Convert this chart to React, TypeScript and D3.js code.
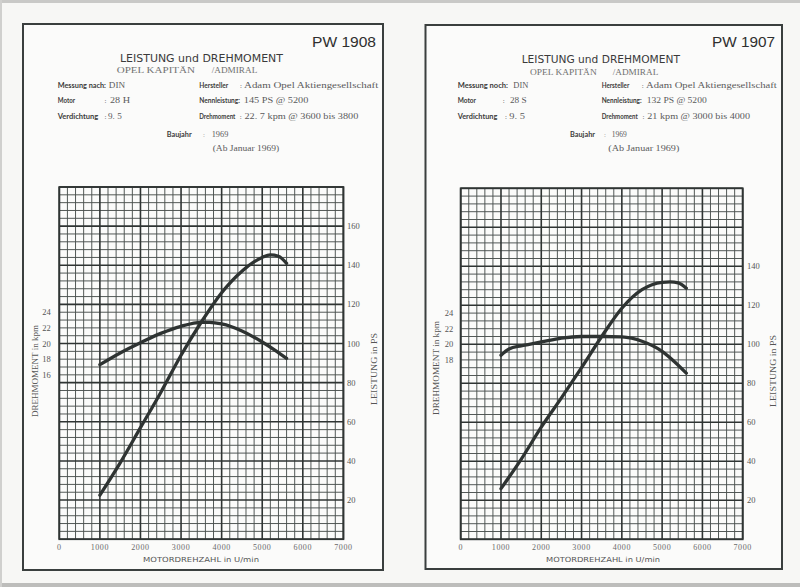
import React from 'react';
import * as d3 from 'd3';

// ---------- data ----------
const rpmTicks = [0, 1000, 2000, 3000, 4000, 5000, 6000, 7000];
const psTicks1908 = [20, 40, 60, 80, 100, 120, 140, 160];
const psTicks1907 = [20, 40, 60, 80, 100, 120, 140];
const kpmTicks1908 = [16, 18, 20, 22, 24];
const kpmTicks1907 = [18, 20, 22, 24];

const torqueRpm1908 = [1000, 1500, 2000, 2500, 3000, 3500, 3700, 4000, 4500, 5000, 5300, 5600];
const torque1908 = [17.3, 18.8, 20.1, 21.3, 22.2, 22.7, 22.7, 22.5, 21.6, 20.2, 19.2, 18.1];
const powerRpm1908 = [1000, 1500, 2000, 2500, 3000, 3500, 4000, 4500, 5000, 5200, 5400, 5600];
const power1908 = [22.5, 39, 57, 75, 94, 111, 126, 137, 144, 145.3, 144.6, 141];

const torqueRpm1907 = [1000, 1200, 1500, 1700, 2000, 2500, 3000, 3500, 4000, 4500, 5000, 5300, 5600];
const torque1907 = [18.6, 19.4, 19.8, 20.0, 20.3, 20.8, 21.0, 21.0, 20.95, 20.4, 19.1, 17.8, 16.3];
const powerRpm1907 = [1000, 1500, 2000, 2500, 3000, 3500, 4000, 4500, 5000, 5200, 5400, 5600];
const power1907 = [26, 41, 57.5, 72.5, 88, 104, 118.5, 128, 131.8, 132, 131.5, 128.8];

const codes = ['PW 1908', 'PW 1907'];
const motorValues = ['28 H', '28 S'];
const messungLabels = ['Messung nach', 'Messung noch'];
const nennValues = ['145 PS @ 5200', '132 PS @ 5200'];
const drehValues = ['22. 7 kpm @ 3600 bis 3800', '21 kpm @ 3000 bis 4000'];

const SANS = "'DejaVu Sans', 'Liberation Sans', sans-serif";
const LATO = "Lato, 'DejaVu Sans', sans-serif";
const SERIF = "'Liberation Serif', 'DejaVu Serif', serif";
const INK = '#2e3332';

type TP = {
  x: number; y: number; s: string; size: number; font?: string; len?: number;
  anchor?: string; fill?: string; weight?: number | string; rot?: boolean; ls?: number;
};
const T = ({ x, y, s, size, font = SANS, len, anchor = 'start', fill = '#3a3a3a', weight = 'normal', rot = false, ls }: TP) => (
  <text
    x={x}
    y={y}
    fontSize={size}
    fontFamily={font}
    textAnchor={anchor}
    fill={fill}
    fontWeight={weight}
    letterSpacing={ls}
    transform={rot ? `rotate(-90 ${x} ${y})` : undefined}
    {...(len ? { textLength: len, lengthAdjust: 'spacingAndGlyphs' } : {})}
  >
    {s}
  </text>
);

type ChartProps = {
  gx0: number; gx1: number; gyTop: number; gyBot: number;
  psTicks: number[]; kpmTicks: number[];
  tRpm: number[]; tVal: number[]; pRpm: number[]; pVal: number[];
  kpmLabelX: number; psLabelX: number;
};

const Chart = (p: ChartProps) => {
  const x = d3.scaleLinear().domain([0, 7000]).range([p.gx0, p.gx1]);
  const y = d3.scaleLinear().domain([0, 180]).range([p.gyBot, p.gyTop]);
  const yT = d3.scaleLinear().domain([-5, 40]).range([p.gyBot, p.gyTop]);
  const vLines = d3.range(0, 7001, 200);
  const hLines = d3.range(0, 181, 4);
  const line = d3.line<[number, number]>().curve(d3.curveMonotoneX);
  const torquePath = line(p.tRpm.map((r, i) => [x(r), yT(p.tVal[i])]));
  const powerPath = line(p.pRpm.map((r, i) => [x(r), y(p.pVal[i])]));
  return (
    <g>
      {vLines.filter((v) => v % 1000 !== 0).map((v) => (
        <line key={'v' + v} x1={x(v)} x2={x(v)} y1={p.gyTop} y2={p.gyBot} stroke="#4a504e" strokeWidth={0.95} />
      ))}
      {hLines.filter((v) => v % 20 !== 0).map((v) => (
        <line key={'h' + v} x1={p.gx0} x2={p.gx1} y1={y(v)} y2={y(v)} stroke="#4a504e" strokeWidth={0.95} />
      ))}
      {vLines.filter((v) => v % 1000 === 0).map((v) => (
        <line key={'V' + v} x1={x(v)} x2={x(v)} y1={p.gyTop} y2={p.gyBot} stroke="#2f3433" strokeWidth={1.6} />
      ))}
      {hLines.filter((v) => v % 20 === 0).map((v) => (
        <line key={'H' + v} x1={p.gx0} x2={p.gx1} y1={y(v)} y2={y(v)} stroke="#2f3433" strokeWidth={1.6} />
      ))}
      <rect x={p.gx0} y={p.gyTop} width={p.gx1 - p.gx0} height={p.gyBot - p.gyTop} fill="none" stroke="#2f3433" strokeWidth={1.8} />
      <path d={torquePath || ''} fill="none" stroke={INK} strokeWidth={3.3} strokeLinecap="round" />
      <path d={powerPath || ''} fill="none" stroke={INK} strokeWidth={3.3} strokeLinecap="round" />
      {rpmTicks.map((r) => (
        <T key={'xr' + r} x={x(r)} y={p.gyBot + 10.5} s={String(r)} size={8} font={SERIF} anchor="middle" fill="#6a6a6a" ls={0.6} />
      ))}
      {p.psTicks.map((v) => (
        <T key={'ps' + v} x={p.psLabelX} y={y(v) + 3} s={String(v)} size={8.5} font={SERIF} fill="#555" />
      ))}
      {p.kpmTicks.map((v) => (
        <T key={'kp' + v} x={p.kpmLabelX} y={yT(v) + 3} s={String(v)} size={8.5} font={SERIF} anchor="middle" fill="#555" />
      ))}
    </g>
  );
};

type HeaderProps = { i: number; ox: number };

const Header = ({ i, ox }: HeaderProps) => {
  const lab = '#3b3b3b';
  const val = '#5a5a5a';
  const right = i === 1;
  const ls = 7;
  return (
    <g>
      <T x={376 + ox - (right ? 1 : 0)} y={47.3} s={codes[i]} size={15.5} font="'Liberation Sans', Arial, sans-serif" anchor="end" fill="#2f2f2f" len={right ? 63 : 64} />
      <T x={right ? 521.7 : 120} y={right ? 63.3 : 62} s="LEISTUNG und DREHMOMENT" size={10.2} font={SANS} fill="#3a3a3a" len={right ? 158.3 : 163} />
      <T x={right ? 530 : 116.7} y={right ? 75 : 73} s="OPEL KAPITÄN" size={7.4} font={SERIF} fill="#707070" len={right ? 66.7 : 78.3} />
      <T x={right ? 612.7 : 211.7} y={right ? 75 : 73} s="/ADMIRAL" size={7.4} font={SERIF} fill="#707070" len={45.6} />

      {/* left column */}
      <T x={57.7 + ox} y={right ? 88.3 : 87.7} s={messungLabels[i] + ':'} size={ls} font={LATO} fill={lab} weight="bold" len={right ? 50.3 : 48.3} />
      <T x={right ? 513.3 : 108.8} y={right ? 88.3 : 87.7} s="DIN" size={7.4} font={SERIF} fill={val} len={right ? 15 : 16.2} />
      <T x={57.7 + ox} y={103.3} s="Motor" size={ls} font={LATO} fill={lab} weight="bold" len={right ? 18.3 : 17.3} />
      <T x={right ? 502.7 : 104.5} y={103.3} s=":" size={7} font={SERIF} fill={val} />
      <T x={right ? 510 : 110} y={103.3} s={motorValues[i]} size={7.4} font={SERIF} fill={val} len={right ? 16.7 : 20} />
      <T x={57.7 + ox} y={118.5} s="Verdichtung" size={ls} font={LATO} fill={lab} weight="bold" len={right ? 39.6 : 40.6} />
      <T x={right ? 505 : 104.5} y={118.5} s=":" size={7} font={SERIF} fill={val} />
      <T x={right ? 509.3 : 108} y={118.5} s="9. 5" size={7.4} font={SERIF} fill={val} len={right ? 15.7 : 13.7} />

      {/* right column */}
      <T x={right ? 601.7 : 199.3} y={right ? 88.3 : 87.7} s="Hersteller" size={ls} font={LATO} fill={lab} weight="bold" len={right ? 27.6 : 29} />
      <T x={right ? 641.7 : 240} y={right ? 88.3 : 87.7} s=":" size={7} font={SERIF} fill={val} />
      <T x={right ? 646 : 244} y={right ? 88.3 : 87.7} s="Adam Opel Aktiengesellschaft" size={7.6} font={SERIF} fill={val} len={right ? 130.7 : 134.3} />
      <T x={right ? 601.7 : 199.3} y={103.3} s="Nennleistung:" size={ls} font={LATO} fill={lab} weight="bold" len={right ? 40 : 40.7} />
      <T x={right ? 646.7 : 243.8} y={103.3} s={nennValues[i]} size={7.4} font={SERIF} fill={val} len={right ? 60 : 64.5} />
      <T x={right ? 601.7 : 199.3} y={118.5} s="Drehmoment" size={ls} font={LATO} fill={lab} weight="bold" len={36} />
      <T x={right ? 642.6 : 239.8} y={118.5} s=":" size={7} font={SERIF} fill={val} />
      <T x={right ? 647.3 : 244.5} y={118.5} s={drehValues[i]} size={7.4} font={SERIF} fill={val} len={right ? 102.7 : 113.8} />

      {/* Baujahr */}
      <T x={right ? 570 : 166.7} y={137.2} s="Baujahr" size={ls} font={LATO} fill={lab} weight="bold" len={25} />
      <T x={right ? 604 : 203} y={137.2} s=":" size={7} font={SERIF} fill="#999" />
      <T x={right ? 611.7 : 211.7} y={137.2} s="1969" size={7.4} font={SERIF} fill={val} len={right ? 15 : 16.6} />
      <T x={right ? 608.3 : 212.7} y={150.7} s="(Ab Januar 1969)" size={7.6} font={SERIF} fill={val} len={right ? 71 : 66.6} />
    </g>
  );
};

export default function App() {
  return (
    <svg width={800} height={587} style={{ position: 'absolute', left: 0, top: 0, background: '#f7f7f5' }}>
      <rect x={0} y={0} width={800} height={587} fill="#f7f7f5" />
      <rect x={0} y={0} width={800} height={3} fill="#c9c9c7" />
      <rect x={0} y={583} width={800} height={4} fill="#bdbdbb" />
      <rect x={0} y={0} width={2} height={587} fill="#d0d0ce" />

      {/* panels */}
      <rect x={23} y={24} width={360} height={546} fill="#fbfbfa" stroke="#3a3f3e" strokeWidth={2} />
      <rect x={425.5} y={25} width={356.5} height={544} fill="#fbfbfa" stroke="#3a3f3e" strokeWidth={2} />

      <Header i={0} ox={0} />
      <Header i={1} ox={400} />

      <Chart gx0={59.3} gx1={343.4} gyTop={187} gyBot={539.2} psTicks={psTicks1908} kpmTicks={kpmTicks1908}
        tRpm={torqueRpm1908} tVal={torque1908} pRpm={powerRpm1908} pVal={power1908} kpmLabelX={46.5} psLabelX={347} />
      <Chart gx0={460.7} gx1={742.7} gyTop={188.3} gyBot={539.3} psTicks={psTicks1907} kpmTicks={kpmTicks1907}
        tRpm={torqueRpm1907} tVal={torque1907} pRpm={powerRpm1907} pVal={power1907} kpmLabelX={449} psLabelX={747} />

      {/* axis titles */}
      <T x={38.3} y={371} s="DREHMOMENT in kpm" size={7.5} font={SERIF} anchor="middle" fill="#555" rot len={92} />
      <T x={377} y={369} s="LEISTUNG in PS" size={7.5} font={SERIF} anchor="middle" fill="#555" rot len={72} />
      <T x={438.5} y={368} s="DREHMOMENT in kpm" size={7.5} font={SERIF} anchor="middle" fill="#555" rot len={94} />
      <T x={776} y={371} s="LEISTUNG in PS" size={7.5} font={SERIF} anchor="middle" fill="#555" rot len={72} />
      <T x={143} y={562.3} s="MOTORDREHZAHL in U/min" size={7} font={SANS} fill="#555" len={116} />
      <T x={546} y={562.3} s="MOTORDREHZAHL in U/min" size={7} font={SANS} fill="#555" len={114} />
    </svg>
  );
}
